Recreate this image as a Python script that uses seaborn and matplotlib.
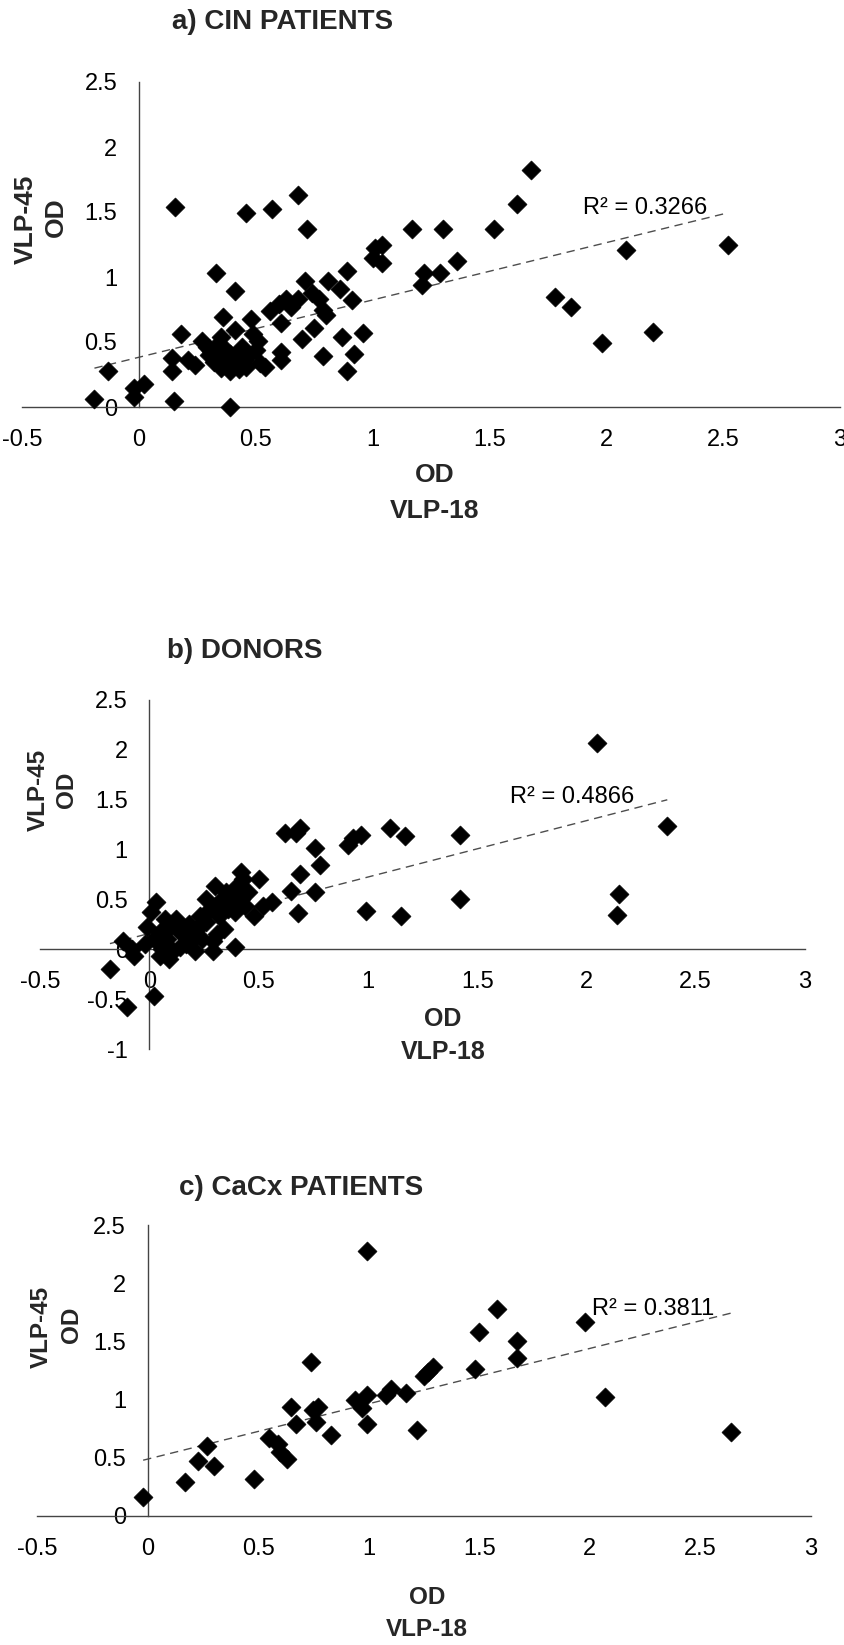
import matplotlib
matplotlib.use('Agg')
import matplotlib.pyplot as plt
from matplotlib.ticker import FuncFormatter
import seaborn as sns

# OD readings (VLP-18 on x, VLP-45 on y)
cin_x = [-0.19, -0.13, -0.02, -0.02, 0.02, 0.15, 0.155, 0.18, 0.14, 0.14,
         0.21, 0.24, 0.27, 0.33, 0.41, 0.36, 0.39, 0.35, 0.31, 0.34,
         0.36, 0.39, 0.39, 0.41, 0.44, 0.45, 0.46, 0.48, 0.49, 0.51,
         0.52, 0.54, 0.30, 0.32, 0.35, 0.37, 0.38, 0.40, 0.42, 0.43,
         0.47, 0.50, 0.29, 0.33, 0.46, 0.57, 0.68, 0.72, 0.56, 0.60,
         0.61, 0.61, 0.61, 0.63, 0.65, 0.68, 0.70, 0.71, 0.74, 0.75,
         0.77, 0.79, 0.80, 0.79, 0.81, 0.86, 0.87, 0.89, 0.89, 0.91,
         0.92, 0.96, 1.01, 1.04, 1.00, 1.04, 1.17, 1.21, 1.22, 1.29,
         1.30, 1.36, 1.52, 1.62, 1.68, 1.78, 1.85, 1.98, 2.085, 2.20,
         2.52]
cin_y = [0.06, 0.28, 0.08, 0.15, 0.18, 0.05, 1.54, 0.56, 0.38, 0.28,
         0.36, 0.32, 0.51, 1.03, 0.89, 0.69, 0.0, 0.54, 0.43, 0.38,
         0.33, 0.28, 0.41, 0.59, 0.46, 0.36, 0.31, 0.68, 0.56, 0.51,
         0.34, 0.31, 0.40, 0.35, 0.30, 0.45, 0.37, 0.33, 0.40, 0.29,
         0.40, 0.44, 0.46, 0.47, 1.49, 1.52, 1.63, 1.37, 0.74, 0.79,
         0.42, 0.36, 0.65, 0.83, 0.77, 0.83, 0.52, 0.97, 0.88, 0.61,
         0.83, 0.75, 0.71, 0.39, 0.97, 0.91, 0.54, 1.05, 0.28, 0.82,
         0.41, 0.57, 1.22, 1.25, 1.15, 1.11, 1.37, 0.94, 1.03, 1.03,
         1.37, 1.12, 1.37, 1.56, 1.82, 0.85, 0.77, 0.49, 1.21, 0.58,
         1.25]

donor_x = [-0.18, -0.10, 0.02, -0.12, -0.08, -0.07, -0.02, -0.01, 0.01, 0.03,
           0.05, 0.05, 0.07, 0.08, 0.09, 0.10, 0.11, 0.13, 0.14, 0.21,
           0.22, 0.23, 0.24, 0.26, 0.26, 0.29, 0.29, 0.30, 0.32, 0.32,
           0.34, 0.35, 0.36, 0.38, 0.39, 0.39, 0.40, 0.42, 0.42, 0.43,
           0.44, 0.45, 0.48, 0.50, 0.52, 0.56, 0.62, 0.65, 0.67, 0.69,
           0.68, 0.69, 0.76, 0.76, 0.78, 0.91, 0.93, 0.97, 0.99, 1.10,
           1.17, 1.15, 1.42, 1.42, 2.05, 2.15, 2.14, 2.37,
           0.15, 0.18, 0.20, 0.28, 0.31, 0.33, 0.37, 0.41, 0.12, 0.02,
           0.06, 0.17]
donor_y = [-0.20, -0.58, -0.47, 0.08, 0.0, -0.07, 0.05, 0.22, 0.37, 0.47,
           0.17, -0.07, 0.30, 0.10, -0.10, 0.23, -0.02, 0.20, 0.02, -0.02,
           0.20, 0.33, 0.10, 0.27, 0.50, 0.08, -0.02, 0.63, 0.33, 0.47,
           0.20, 0.57, 0.40, 0.50, 0.02, 0.37, 0.63, 0.78, 0.50, 0.70,
           0.43, 0.57, 0.33, 0.70, 0.43, 0.47, 1.17, 0.58, 1.17, 1.22,
           0.36, 0.75, 1.02, 0.57, 0.85, 1.05, 1.12, 1.15, 0.38, 1.22,
           1.14, 0.33, 1.15, 0.50, 2.07, 0.55, 0.34, 1.24,
           0.15, 0.25, 0.10, 0.40, 0.15, 0.45, 0.55, 0.45, 0.30, 0.10,
           0.0, 0.05]

cacx_x = [-0.02, 0.17, 0.23, 0.27, 0.30, 0.48, 0.55, 0.59, 0.60, 0.63,
          0.65, 0.67, 0.74, 0.75, 0.77, 0.76, 0.83, 0.94, 0.97, 0.99,
          0.99, 0.99, 1.08, 1.10, 1.17, 1.22, 1.25, 1.27, 1.29, 1.48,
          1.50, 1.58, 1.67, 1.67, 1.98, 2.07, 2.64]
cacx_y = [0.16, 0.29, 0.47, 0.60, 0.43, 0.32, 0.67, 0.62, 0.55, 0.49,
          0.94, 0.79, 1.32, 0.91, 0.94, 0.81, 0.70, 1.00, 0.93, 2.28,
          1.04, 0.79, 1.04, 1.09, 1.06, 0.74, 1.20, 1.24, 1.28, 1.26,
          1.58, 1.78, 1.50, 1.36, 1.67, 1.02, 0.72]

titles = ['a) CIN PATIENTS', 'b) DONORS', 'c) CaCx PATIENTS']
r2_labels = ['R\u00b2 = 0.3266', 'R\u00b2 = 0.4866', 'R\u00b2 = 0.3811']
x_ticks = [-0.5, 0, 0.5, 1, 1.5, 2, 2.5, 3]

sns.set_style('white')
plt.rcParams['font.family'] = ['Liberation Sans', 'DejaVu Sans']
plt.rcParams['axes.unicode_minus'] = False

W, H = 845, 1645
fig = plt.figure(figsize=(W / 100, H / 100), dpi=100)


def px_box(x0, x1, y_top, y_bot):
    return [x0 / W, 1 - y_bot / H, (x1 - x0) / W, (y_bot - y_top) / H]


def fig_text(x, y, s, **kw):
    fig.text(x / W, 1 - y / H, s, ha='center', va='center', **kw)


panels = [
    dict(x=cin_x, y=cin_y, box=px_box(22, 840, 82, 407), ylim=(0, 2.5),
         yticks=[0, 0.5, 1, 1.5, 2, 2.5], r2=(1.90, 1.53),
         title=(283, 22), vlp=(26, 219, 19), od=(56, 217),
         xl=(435, 475, 511, 19)),
    dict(x=donor_x, y=donor_y, box=px_box(40, 805, 700, 1049), ylim=(-1, 2.5),
         yticks=[-1, -0.5, 0, 0.5, 1, 1.5, 2, 2.5], r2=(1.65, 1.53),
         title=(245, 651), vlp=(38, 790, 17.5), od=(67, 790),
         xl=(443, 1019, 1052, 18)),
    dict(x=cacx_x, y=cacx_y, box=px_box(37, 811, 1225, 1516), ylim=(0, 2.5),
         yticks=[0, 0.5, 1, 1.5, 2, 2.5], r2=(2.01, 1.78),
         title=(301, 1188), vlp=(41, 1327, 17.5), od=(72, 1325),
         xl=(427, 1597, 1630, 17.5)),
]

fmt = FuncFormatter(lambda v, p: f'{v:g}')

for i, p in enumerate(panels):
    ax = fig.add_axes(p['box'])
    sns.regplot(x=p['x'], y=p['y'], ax=ax, ci=None, marker='D', color='black',
                scatter_kws=dict(s=95, alpha=1, edgecolor='black', linewidths=0.4,
                                 zorder=3, clip_on=False),
                line_kws=dict(color='#4d4d4d', lw=1.0, ls=(0, (6, 4)), zorder=2))
    ax.set_xlim(-0.5, 3)
    ax.set_ylim(*p['ylim'])
    ax.set_xticks(x_ticks)
    ax.set_yticks(p['yticks'])
    ax.xaxis.set_major_formatter(fmt)
    ax.yaxis.set_major_formatter(fmt)
    ax.set_xlabel('')
    ax.set_ylabel('')
    ax.set_facecolor('none')
    for side in ['top', 'right']:
        ax.spines[side].set_visible(False)
    for side in ['left', 'bottom']:
        ax.spines[side].set_position(('data', 0))
        ax.spines[side].set_color('#444444')
        ax.spines[side].set_linewidth(1.0)
    ax.tick_params(direction='inout', length=7, width=1.0, color='#444444',
                   labelsize=17, pad=12, labelcolor='black')

    ax.text(p['r2'][0], p['r2'][1], r2_labels[i], ha='left', va='center',
            fontsize=17, color='black')

    fig_text(p['title'][0], p['title'][1], titles[i], fontsize=20, fontweight='bold')
    vx, vy, vs = p['vlp']
    fig_text(vx, vy, 'VLP-45', rotation=90, fontsize=vs, fontweight='bold')
    fig_text(p['od'][0], p['od'][1], 'OD', rotation=90, fontsize=vs, fontweight='bold')
    lx, ly1, ly2, ls = p['xl']
    fig_text(lx, ly1, 'OD', fontsize=ls, fontweight='bold')
    fig_text(lx, ly2, 'VLP-18', fontsize=ls, fontweight='bold')

fig.savefig('out.png', dpi=100, facecolor='white')
